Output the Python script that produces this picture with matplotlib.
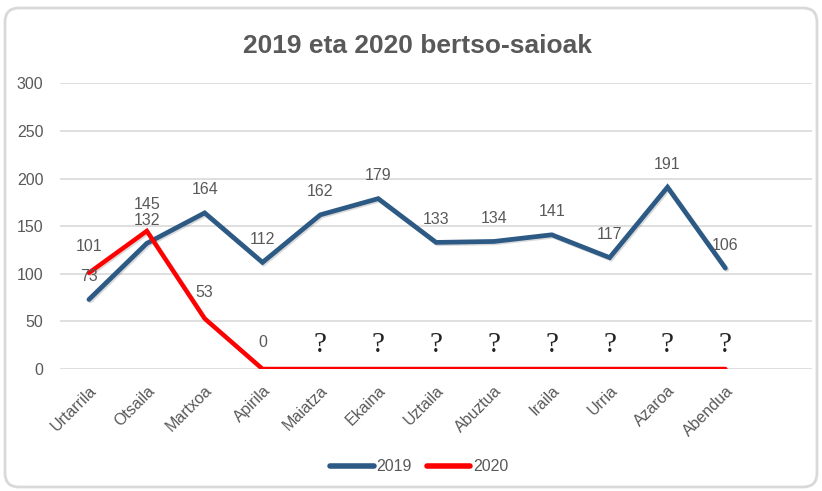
import matplotlib.pyplot as plt
import matplotlib.patheffects as pe
from matplotlib.patches import FancyBboxPatch

months = ["Urtarrila", "Otsaila", "Martxoa", "Apirila", "Maiatza", "Ekaina",
          "Uztaila", "Abuztua", "Iraila", "Urria", "Azaroa", "Abendua"]
y2019 = [73, 132, 164, 112, 162, 179, 133, 134, 141, 117, 191, 106]
y2020 = [101, 145, 53, 0, 0, 0, 0, 0, 0, 0, 0, 0]
# labels shown for 2020 (unknown months marked with "?")
lab2020 = ["101", "145", "53", "0", "?", "?", "?", "?", "?", "?", "?", "?"]

grey = "#595959"
blue = "#2C5A85"
red = "#FF0000"
plt.rcParams["font.family"] = ["Liberation Sans", "DejaVu Sans"]

fig = plt.figure(figsize=(8.22, 4.91), dpi=100)
ax = fig.add_axes([0.073, 0.2485, 0.915, 0.5815])

x = list(range(len(months)))
shadow = [pe.SimpleLineShadow(offset=(1, -1), alpha=0.15, shadow_color="k"), pe.Normal()]
ax.plot(x, y2019, color=blue, lw=3.4, solid_capstyle="round", solid_joinstyle="miter",
        label="2019", path_effects=shadow, zorder=3)
ax.plot(x, y2020, color=red, lw=3.2, solid_capstyle="round", solid_joinstyle="miter",
        label="2020", path_effects=shadow, zorder=4)

for i, v in enumerate(y2019):
    ax.annotate(str(v), (i, v), xytext=(0, 23), textcoords="offset pixels",
                ha="center", va="center", fontsize=11.5, color=grey, zorder=5)
for i, (v, t) in enumerate(zip(y2020, lab2020)):
    if t == "?":
        ax.annotate(t, (i, v), xytext=(0, 24), textcoords="offset pixels",
                    ha="center", va="center", fontsize=21, color="#222222",
                    family="Liberation Serif", zorder=5)
    else:
        ax.annotate(t, (i, v), xytext=(0, 26), textcoords="offset pixels",
                    ha="center", va="center", fontsize=11.5, color=grey, zorder=5)

ax.set_xlim(-0.5, 12.5)
ax.set_ylim(0, 300)
ax.set_yticks(range(0, 301, 50))
ax.set_xticks(x)
ax.set_xticklabels(months, rotation=45, ha="right", rotation_mode="anchor")
ax.tick_params(axis="both", length=0, labelsize=11.5, labelcolor=grey)
ax.tick_params(axis="x", pad=10)
ax.tick_params(axis="y", pad=12)
ax.grid(axis="y", color="#D9D9D9", lw=1.2)
ax.set_axisbelow(True)
for s in ax.spines.values():
    s.set_visible(False)

fig.suptitle("2019 eta 2020 bertso-saioak", x=0.508, y=0.93, fontsize=19,
             fontweight="bold", color=grey)

leg = fig.legend(loc="center", bbox_to_anchor=(0.51, 0.049), ncol=2, frameon=False,
                 fontsize=11.5, handlelength=2.7, handletextpad=0.15, columnspacing=1.0)
for t in leg.get_texts():
    t.set_color(grey)
for h in leg.get_lines():
    h.set_linewidth(4)
    h.set_path_effects([])

border = FancyBboxPatch((5, 4), 812, 479, boxstyle="round,pad=0,rounding_size=14",
                        transform=None, fill=False, edgecolor="#D9D9D9", lw=2)
fig.patches.append(border)

fig.savefig("out.png", dpi=100)
